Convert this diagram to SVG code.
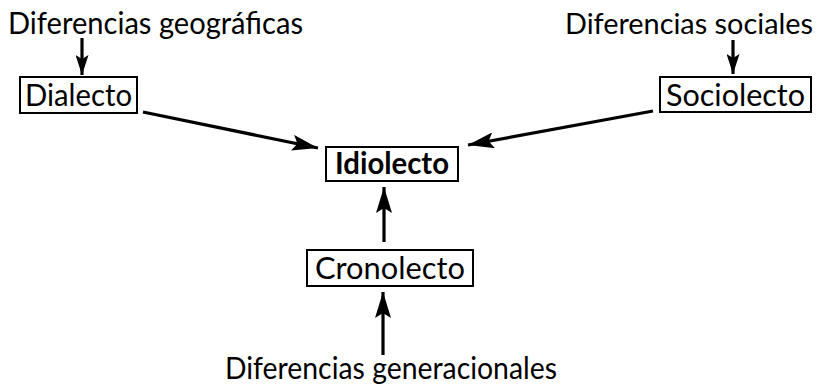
<svg xmlns="http://www.w3.org/2000/svg" width="819" height="389" viewBox="0 0 819 389">
<defs>
<style>
text{font-family:Lato,"Open Sans","Noto Sans",sans-serif;font-size:31px;fill:#000}
.b{font-weight:bold}
.s{font-size:29px}
.box{fill:#fff;stroke:#000;stroke-width:2}
.c{stroke:#000;stroke-width:3.2;fill:none}
.big{marker-end:url(#ah)}
.sm{marker-end:url(#as)}
</style>
<marker id="ah" markerUnits="userSpaceOnUse" viewBox="0 0 26 16" refX="26" refY="8" markerWidth="26" markerHeight="16" orient="auto">
<path d="M0,0 L26,8 L0,16 L5,8 Z" fill="#000"/>
</marker>
<marker id="as" markerUnits="userSpaceOnUse" viewBox="0 0 20 13" refX="20" refY="6.5" markerWidth="20" markerHeight="13" orient="auto">
<path d="M0,0 L20,6.5 L0,13 L4,6.5 Z" fill="#000"/>
</marker>
</defs>
<rect width="819" height="389" fill="#fff"/>
<g id="connectors">
<line class="c sm" x1="82" y1="38" x2="82" y2="75"/>
<line class="c sm" x1="733" y1="40" x2="733" y2="74"/>
<line class="c big" x1="143" y1="112" x2="318" y2="148"/>
<line class="c big" x1="653" y1="111" x2="468" y2="145"/>
<line class="c big" x1="384" y1="242" x2="384" y2="187"/>
<line class="c big" x1="383" y1="355" x2="383" y2="292"/>
</g>
<g id="geo"><text x="8" y="34" textLength="295" lengthAdjust="spacingAndGlyphs">Diferencias geográficas</text></g>
<g id="soc"><text class="s" x="565" y="34" textLength="248" lengthAdjust="spacingAndGlyphs">Diferencias sociales</text></g>
<g id="gen"><text x="225" y="379" textLength="332" lengthAdjust="spacingAndGlyphs">Diferencias generacionales</text></g>
<g id="dialecto"><rect class="box" x="20" y="77" width="117" height="36"/><text x="25" y="106" textLength="107" lengthAdjust="spacingAndGlyphs">Dialecto</text></g>
<g id="sociolecto"><rect class="box" x="660" y="77" width="151" height="35"/><text x="666" y="106" textLength="139" lengthAdjust="spacingAndGlyphs">Sociolecto</text></g>
<g id="idiolecto"><rect class="box" x="326" y="147" width="132" height="34"/><text class="b" x="335" y="174" textLength="114" lengthAdjust="spacingAndGlyphs">Idiolecto</text></g>
<g id="cronolecto"><rect class="box" x="307" y="250" width="166" height="36"/><text x="315" y="279" textLength="150" lengthAdjust="spacingAndGlyphs">Cronolecto</text></g>
</svg>
